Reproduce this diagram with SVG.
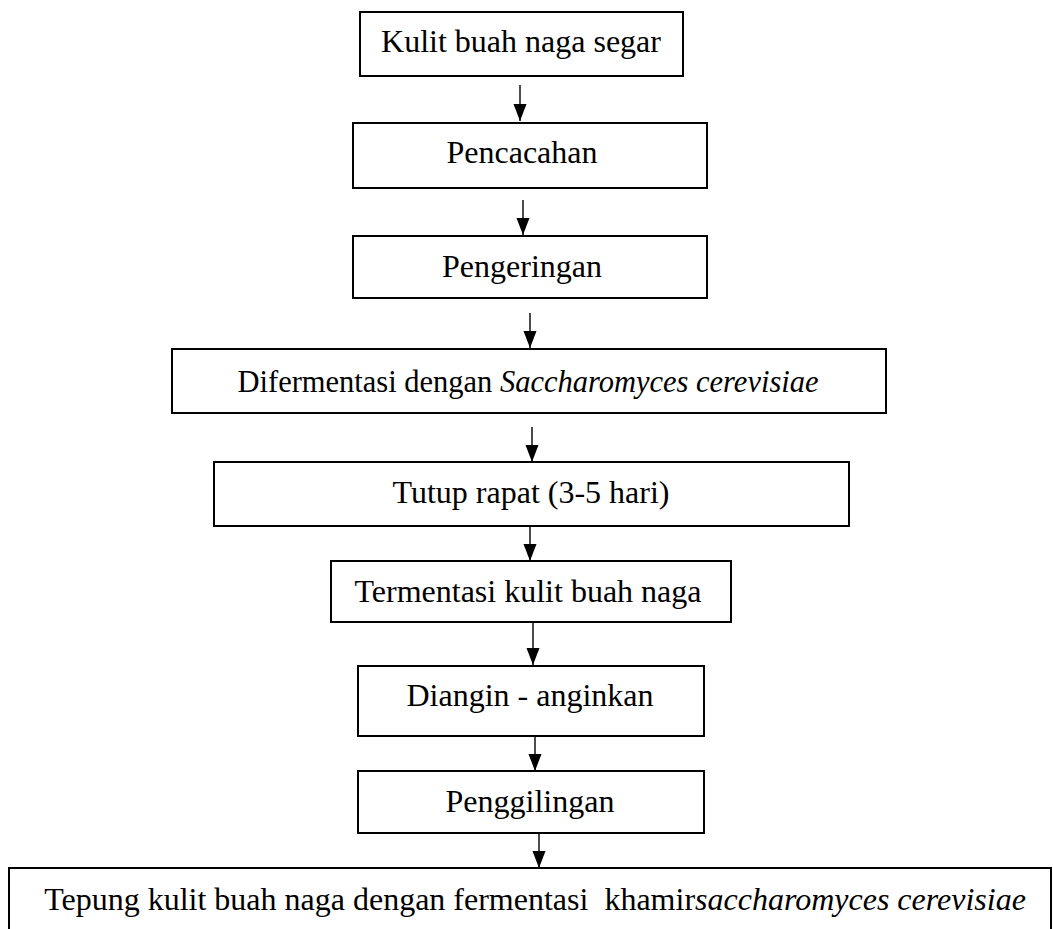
<svg xmlns="http://www.w3.org/2000/svg" width="1053" height="929" viewBox="0 0 1053 929">
<style>
.box{fill:#fff;stroke:#000;stroke-width:2}
.t{font-family:"Liberation Serif","Times New Roman",serif;font-size:32px;fill:#000;text-anchor:middle}
.i{font-style:italic}
.c{stroke:#000;stroke-width:1.4;fill:none;marker-end:url(#ah)}
</style>
<defs>
<marker id="ah" markerUnits="userSpaceOnUse" markerWidth="18" markerHeight="14" refX="17" refY="6.5" orient="auto">
<path d="M0,0 L17,6.5 L0,13 z" fill="#000"/>
</marker>
</defs>
<rect width="1053" height="929" fill="#fff"/>
<g id="connectors">
<line class="c" x1="520" y1="85" x2="520" y2="121"/>
<line class="c" x1="523" y1="200" x2="523" y2="235"/>
<line class="c" x1="530" y1="313" x2="530" y2="348"/>
<line class="c" x1="532" y1="427" x2="532" y2="462"/>
<line class="c" x1="530" y1="526" x2="530" y2="561"/>
<line class="c" x1="533" y1="622" x2="533" y2="665"/>
<line class="c" x1="535" y1="736" x2="535" y2="771"/>
<line class="c" x1="539" y1="833" x2="539" y2="868"/>
</g>
<g id="n1"><rect class="box" x="360" y="12" width="323" height="64"/><text class="t" x="521" y="52">Kulit buah naga segar</text></g>
<g id="n2"><rect class="box" x="353" y="123" width="354" height="65"/><text class="t" x="522" y="163">Pencacahan</text></g>
<g id="n3"><rect class="box" x="353" y="236" width="354" height="62"/><text class="t" x="522" y="277">Pengeringan</text></g>
<g id="n4"><rect class="box" x="172" y="349" width="714" height="64"/><text class="t" x="528" y="392" font-size="30" textLength="581" lengthAdjust="spacingAndGlyphs">Difermentasi dengan <tspan class="i">Saccharomyces cerevisiae</tspan></text></g>
<g id="n5"><rect class="box" x="214" y="462" width="635" height="64"/><text class="t" x="531" y="503">Tutup rapat (3-5 hari)</text></g>
<g id="n6"><rect class="box" x="331" y="561" width="400" height="61"/><text class="t" x="528" y="602">Termentasi kulit buah naga</text></g>
<g id="n7"><rect class="box" x="358" y="666" width="346" height="70"/><text class="t" x="530" y="706">Diangin - anginkan</text></g>
<g id="n8"><rect class="box" x="358" y="771" width="346" height="62"/><text class="t" x="530" y="812">Penggilingan</text></g>
<g id="n9"><rect class="box" x="9" y="868" width="1042" height="80"/><text class="t" x="535" y="910" xml:space="preserve">Tepung kulit buah naga dengan fermentasi  khamir<tspan class="i">saccharomyces cerevisiae</tspan></text></g>
</svg>
